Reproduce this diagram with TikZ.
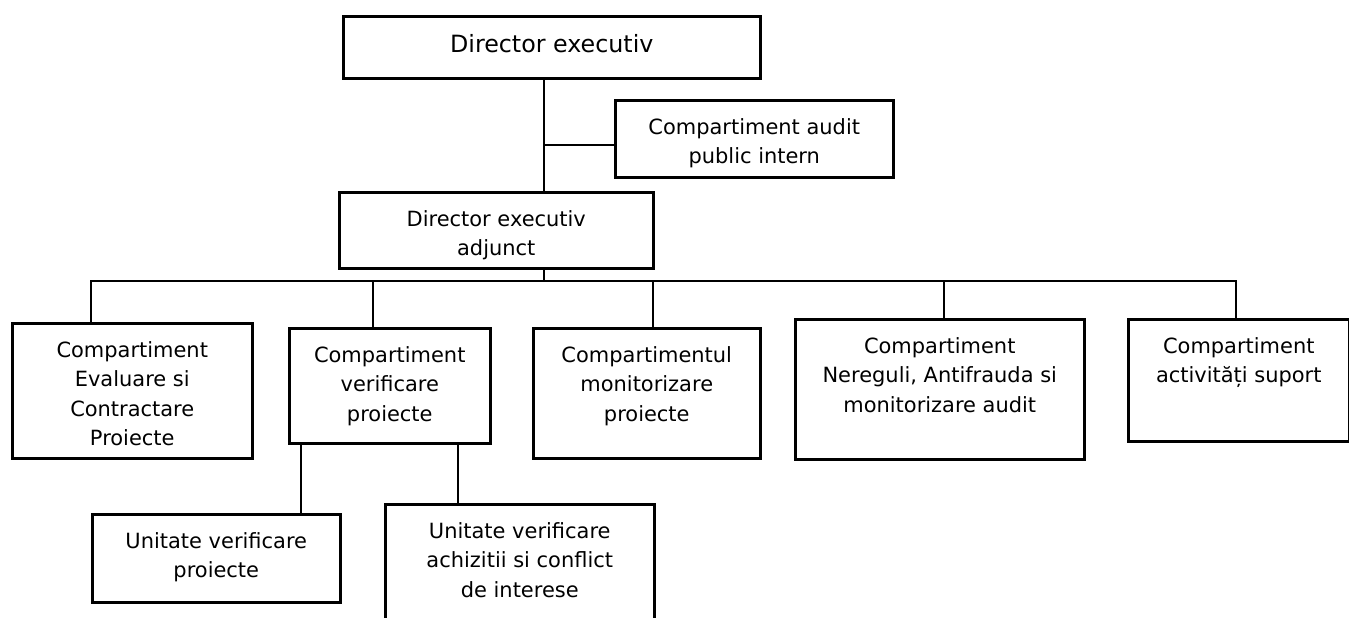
\documentclass[tikz,border=0pt]{standalone}
\usepackage{fontspec}
\setmainfont{DejaVu Sans}
\usetikzlibrary{positioning, calc}

\newlength{\pxu}
\setlength{\pxu}{0.025cm}
\newcommand{\bodyfont}{\fontsize{14.9pt}{21pt}\selectfont}
\newcommand{\headfont}{\fontsize{16.9pt}{23pt}\selectfont}

\tikzset{
  box/.style 2 args={draw, line width=1.8pt, inner sep=0pt, anchor=north west, font=\bodyfont,
    execute at begin node={\begin{minipage}[c][#2\pxu][t]{#1\pxu}\centering\vspace*{18\pxu}},
    execute at end node={\end{minipage}}},
  link/.style={line width=1.7pt, line cap=rect}
}

\begin{document}
\begin{tikzpicture}[x=0.025cm, y=-0.025cm]
  \useasboundingbox (0,0) rectangle (1349,618);

  % Top of the chart
  \node[box={417}{62}, font=\headfont] (dir) at (342,15) {Director executiv};
  \node[box={278}{77}] (audit) at (614,99) {Compartiment audit\\public intern};
  \node[box={314}{76}] (adj) at (338,191) {Director executiv\\adjunct};

  % Compartments
  \node[box={240}{135}] (eval) at (11,322) {Compartiment\\Evaluare si\\Contractare\\Proiecte};
  \node[box={201}{115}] (verif) at (288,327) {Compartiment\\verificare\\proiecte};
  \node[box={227}{130}] (monit) at (532,327) {Compartimentul\\monitorizare\\proiecte};
  \node[box={289}{140}] (nereg) at (794,318) {Compartiment\\Nereguli, Antifrauda si\\monitorizare audit};
  \node[box={221}{122}] (suport) at (1127,318) {Compartiment\\activități suport};

  % Units under verificare
  \node[box={248}{88}] (unit1) at (91,513) {Unitate verificare\\proiecte};
  \node[box={269}{140}] (unit2) at (384,503) {Unitate verificare\\achizitii si conflict\\de interese};

  % Junction points
  \coordinate (spine) at (544,145);
  \coordinate (bar) at (544,281);
  \coordinate (j1) at (91,281);
  \coordinate (j2) at (373,281);
  \coordinate (j3) at (653,281);
  \coordinate (j4) at (944,281);
  \coordinate (j5) at (1236,281);
  \coordinate (k1) at (301,442);
  \coordinate (k2) at (458,442);

  % Director to adjunct, audit on the side
  \draw[link] (dir.south -| spine) -- (adj.north -| spine);
  \draw[link] (spine) -- (audit.west |- spine);
  \draw[link] (adj.south -| bar) -- (bar);

  % Horizontal bar and drops
  \draw[link] (j1) -- (j5);
  \draw[link] (j1) -- (j1 |- eval.north);
  \draw[link] (j2) -- (j2 |- verif.north);
  \draw[link] (j3) -- (j3 |- monit.north);
  \draw[link] (j4) -- (j4 |- nereg.north);
  \draw[link] (j5) -- (j5 |- suport.north);

  % Verificare to its units
  \draw[link] (k1 |- verif.south) -- (k1 |- unit1.north);
  \draw[link] (k2 |- verif.south) -- (k2 |- unit2.north);
\end{tikzpicture}
\end{document}
